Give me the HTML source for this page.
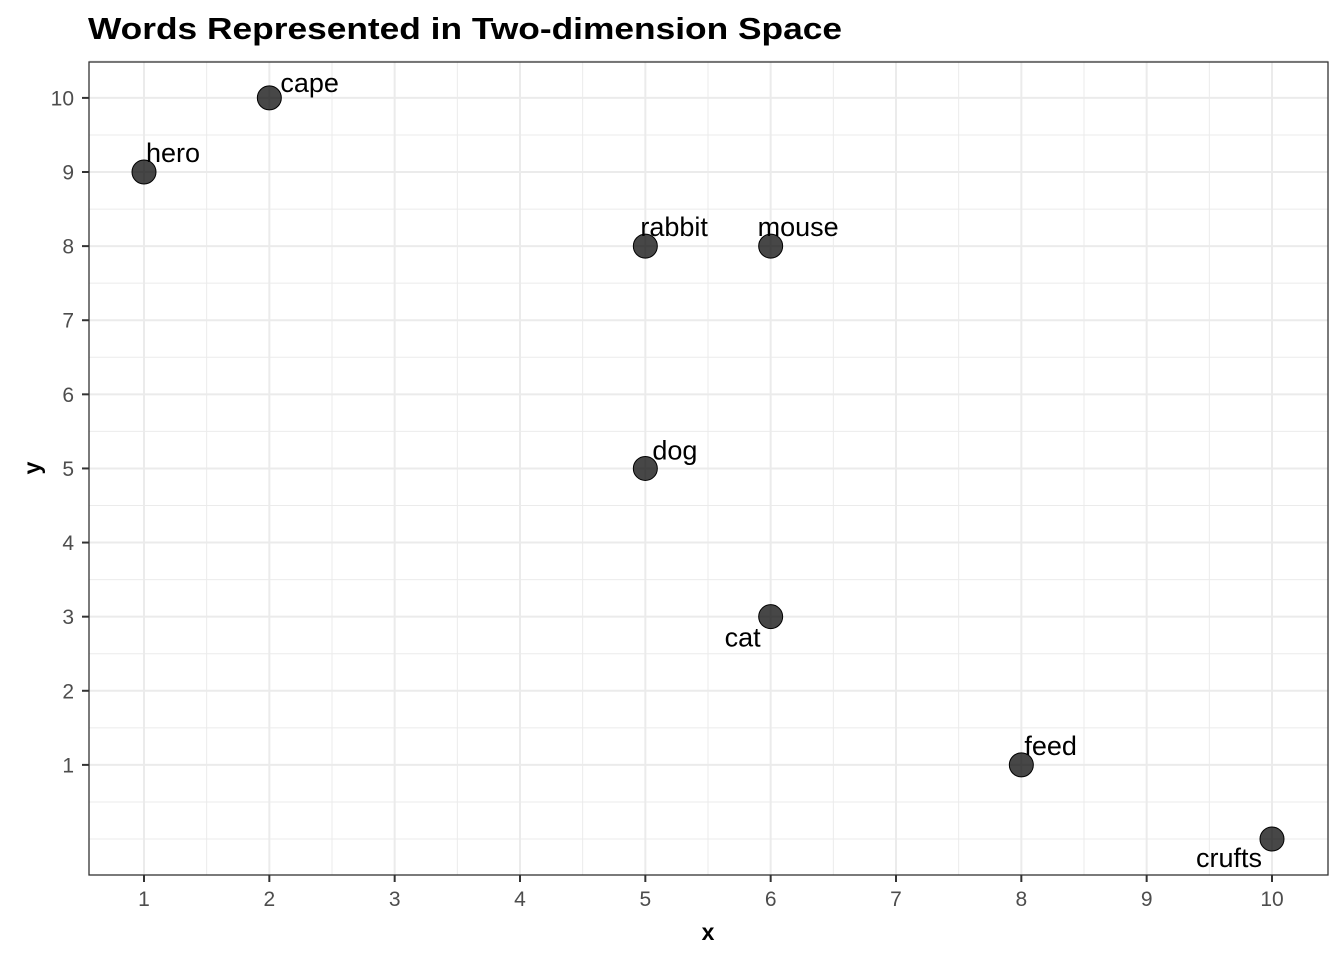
<!DOCTYPE html>
<html><head><meta charset="utf-8"><style>
body{margin:0;background:#fff;font-family:"Liberation Sans",Arial,sans-serif}
</style></head><body>
<svg id="chart" width="1344" height="960" xmlns="http://www.w3.org/2000/svg">
<text x="88" y="39" font-size="31" font-weight="bold" fill="#000" textLength="754" lengthAdjust="spacingAndGlyphs">Words Represented in Two-dimension Space</text>
<g id="grid"></g><g id="axes"></g><g id="pts"></g>
<rect x="89" y="62" width="1239" height="813" fill="none" stroke="#333" stroke-width="1.3"/>
<text x="708" y="940" font-size="23" font-weight="bold" text-anchor="middle">x</text>
<text transform="translate(40,468) rotate(-90)" font-size="23" font-weight="bold" text-anchor="middle">y</text>
</svg>
<script>
const words=["hero","cape","rabbit","mouse","dog","cat","feed","crufts"];
const xs=[1,2,5,6,5,6,8,10];
const ys=[9,10,8,8,5,3,1,0];
const ticks=[1,2,3,4,5,6,7,8,9,10];
const off={hero:[2,-10,"start"],cape:[11,-6,"start"],rabbit:[-5,-10,"start"],mouse:[-13,-10,"start"],dog:[7,-9,"start"],cat:[-10,30,"end"],feed:[3,-10,"start"],crufts:[-10,28,"end"]};
const X=v=>144+(v-1)*125.333, Y=v=>839-v*74.11;
const NS="http://www.w3.org/2000/svg";
function mk(p,t,a){const e=document.createElementNS(NS,t);for(const k in a)e.setAttribute(k,a[k]);p.appendChild(e);return e;}
const g=document.getElementById('grid'),ax=document.getElementById('axes'),pg=document.getElementById('pts');
for(let v=1;v<=10;v+=0.5){const maj=Number.isInteger(v);
 const l=mk(g,'line',{x1:X(v),x2:X(v),y1:62,y2:875,stroke:'#ebebeb','stroke-width':maj?2:1});
 }
for(let v=0;v<=10.5;v+=0.5){const maj=Number.isInteger(v)&&v>=1;
 const l=mk(g,'line',{x1:89,x2:1328,y1:Y(v),y2:Y(v),stroke:'#ebebeb','stroke-width':maj?2:1});
 }
ticks.forEach(t=>{
 mk(ax,'line',{x1:X(t),x2:X(t),y1:875,y2:882,stroke:'#333','stroke-width':2});
 const tx=mk(ax,'text',{x:X(t),y:906,'font-size':21,fill:'#4d4d4d','text-anchor':'middle'});tx.textContent=t;
 
 mk(ax,'line',{x1:82,x2:89,y1:Y(t),y2:Y(t),stroke:'#333','stroke-width':2});
 const ty=mk(ax,'text',{x:74,y:Y(t)+7.5,'font-size':21,fill:'#4d4d4d','text-anchor':'end'});ty.textContent=t;
 
});
words.forEach((w,i)=>{
 const cx=X(xs[i]),cy=Y(ys[i]);
 const c=mk(pg,'circle',{cx:cx,cy:cy,r:12,fill:'rgba(0,0,0,0.72)',stroke:'#000','stroke-width':1});
 
 const o=off[w];
 const t=mk(pg,'text',{x:cx+o[0],y:cy+o[1],'font-size':27,fill:'#000','text-anchor':o[2]});t.textContent=w;
 
});
</script>
</body></html>
